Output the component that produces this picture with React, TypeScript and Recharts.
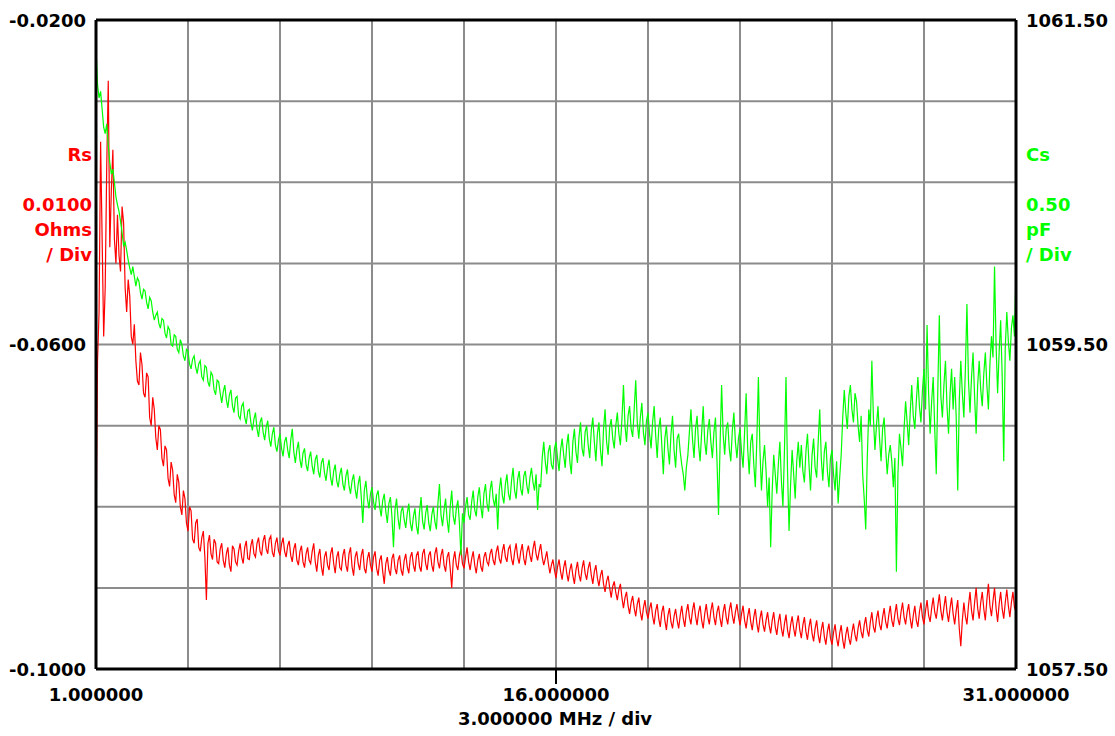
import React from "react";
import { LineChart, Line, XAxis, YAxis, CartesianGrid, ReferenceLine } from "recharts";

const FREQ_START = 1;
const FREQ_STEP = 0.1;

// Cs (pF) at 1.0, 1.1, ... 31.0 MHz
const csValues = [
  1061.33, 1061.02, 1060.95, 1060.80, 1060.73, 1060.55, 1060.50, 1060.36, 1060.26, 1060.11,
  1060.08, 1059.97, 1059.98, 1059.86, 1059.89, 1059.78, 1059.83, 1059.72, 1059.77, 1059.65,
  1059.70, 1059.60, 1059.65, 1059.54, 1059.59, 1059.49, 1059.55, 1059.45, 1059.50, 1059.40,
  1059.46, 1059.35, 1059.43, 1059.32, 1059.40, 1059.28, 1059.36, 1059.24, 1059.31, 1059.19,
  1059.27, 1059.14, 1059.25, 1059.11, 1059.22, 1059.08, 1059.18, 1059.04, 1059.14, 1059.01,
  1059.10, 1058.97, 1059.08, 1058.93, 1059.05, 1058.91, 1059.03, 1058.87, 1058.99, 1058.84,
  1058.95, 1058.81, 1058.93, 1058.80, 1058.98, 1058.77, 1058.90, 1058.74, 1058.86, 1058.72,
  1058.84, 1058.70, 1058.82, 1058.68, 1058.80, 1058.66, 1058.79, 1058.63, 1058.76, 1058.62,
  1058.74, 1058.60, 1058.73, 1058.58, 1058.70, 1058.55, 1058.69, 1058.40, 1058.66, 1058.49,
  1058.62, 1058.48, 1058.60, 1058.44, 1058.58, 1058.40, 1058.56, 1058.25, 1058.55, 1058.36,
  1058.50, 1058.37, 1058.52, 1058.35, 1058.49, 1058.33, 1058.56, 1058.36, 1058.51, 1058.35,
  1058.50, 1058.36, 1058.64, 1058.38, 1058.55, 1058.34, 1058.60, 1058.39, 1058.54, 1058.20,
  1058.40, 1058.56, 1058.42, 1058.60, 1058.44, 1058.62, 1058.43, 1058.64, 1058.47, 1058.66,
  1058.50, 1058.36, 1058.68, 1058.52, 1058.70, 1058.54, 1058.74, 1058.55, 1058.72, 1058.57,
  1058.72, 1058.58, 1058.74, 1058.60, 1058.48, 1058.62, 1058.90, 1058.70, 1058.88, 1058.73,
  1058.90, 1058.72, 1058.92, 1058.74, 1058.95, 1058.70, 1058.98, 1058.77, 1059.02, 1058.81,
  1059.00, 1058.80, 1059.05, 1058.78, 1059.02, 1058.75, 1059.10, 1058.82, 1059.04, 1058.86,
  1059.08, 1058.88, 1059.25, 1058.90, 1059.12, 1058.93, 1059.28, 1058.92, 1059.14, 1058.88,
  1059.08, 1058.86, 1059.12, 1058.80, 1059.05, 1058.70, 1059.00, 1058.76, 1059.06, 1058.74,
  1058.95, 1058.76, 1058.60, 1058.82, 1059.10, 1058.80, 1059.06, 1058.78, 1059.12, 1058.82,
  1059.04, 1058.80, 1059.05, 1058.45, 1059.25, 1058.82, 1059.02, 1058.78, 1059.08, 1058.80,
  1058.98, 1058.74, 1059.20, 1058.70, 1058.95, 1058.62, 1059.30, 1058.60, 1058.88, 1058.50,
  1058.25, 1058.82, 1058.58, 1058.90, 1058.50, 1059.30, 1058.35, 1058.85, 1058.55, 1058.90,
  1058.88, 1058.65, 1058.95, 1058.60, 1058.92, 1058.68, 1059.10, 1058.66, 1058.90, 1058.62,
  1058.85, 1058.60, 1058.52, 1058.82, 1059.22, 1058.98, 1059.25, 1059.02, 1059.15, 1058.90,
  1058.70, 1058.36, 1059.10, 1059.40, 1058.85, 1059.12, 1058.78, 1059.05, 1058.70, 1058.88,
  1058.62, 1058.10, 1058.95, 1058.75, 1059.15, 1058.88, 1059.25, 1058.98, 1059.30, 1059.02,
  1059.35, 1059.62, 1058.95, 1059.30, 1058.70, 1059.68, 1059.05, 1059.40, 1058.95, 1059.35,
  1059.30, 1058.60, 1059.40, 1059.05, 1059.75, 1059.08, 1059.45, 1058.95, 1059.40, 1059.12,
  1059.45, 1059.10, 1059.55, 1059.98, 1059.20, 1059.65, 1058.78, 1059.70, 1059.40, 1059.68, 1059.95,
];

// Cs (pF) read at the half steps 1.05, 1.15, ... 30.95 MHz
const csHalfValues = [
  1061.10, 1061.06, 1060.84, 1060.86, 1060.62, 1060.58, 1060.41, 1060.32, 1060.19, 1060.13,
  1060.02, 1059.93, 1059.92, 1059.91, 1059.82, 1059.84, 1059.76, 1059.79, 1059.70, 1059.68,
  1059.63, 1059.66, 1059.57, 1059.61, 1059.50, 1059.56, 1059.47, 1059.53, 1059.43, 1059.47,
  1059.38, 1059.41, 1059.36, 1059.38, 1059.30, 1059.37, 1059.27, 1059.33, 1059.22, 1059.28,
  1059.20, 1059.21, 1059.16, 1059.19, 1059.12, 1059.17, 1059.06, 1059.12, 1059.05, 1059.09,
  1059.02, 1059.04, 1058.98, 1059.02, 1058.96, 1058.99, 1058.92, 1058.95, 1058.88, 1058.91,
  1058.86, 1058.90, 1058.85, 1058.91, 1058.84, 1058.85, 1058.79, 1058.83, 1058.76, 1058.80,
  1058.75, 1058.79, 1058.72, 1058.77, 1058.71, 1058.74, 1058.68, 1058.72, 1058.66, 1058.70,
  1058.64, 1058.69, 1058.63, 1058.66, 1058.61, 1058.64, 1058.56, 1058.60, 1058.55, 1058.58,
  1058.53, 1058.57, 1058.50, 1058.54, 1058.47, 1058.52, 1058.44, 1058.48, 1058.43, 1058.47,
  1058.42, 1058.46, 1058.40, 1058.44, 1058.38, 1058.47, 1058.41, 1058.46, 1058.40, 1058.45,
  1058.41, 1058.52, 1058.45, 1058.48, 1058.42, 1058.50, 1058.44, 1058.49, 1058.40, 1058.46,
  1058.50, 1058.45, 1058.53, 1058.48, 1058.56, 1058.50, 1058.58, 1058.52, 1058.60, 1058.55,
  1058.58, 1058.60, 1058.57, 1058.64, 1058.58, 1058.66, 1058.60, 1058.67, 1058.61, 1058.69,
  1058.63, 1058.68, 1058.65, 1058.70, 1058.64, 1058.80, 1058.78, 1058.84, 1058.76, 1058.86,
  1058.80, 1058.85, 1058.82, 1058.88, 1058.78, 1058.90, 1058.84, 1058.93, 1058.86, 1058.96,
  1058.88, 1058.97, 1058.90, 1058.95, 1058.85, 1058.98, 1058.90, 1058.99, 1058.92, 1059.00,
  1058.95, 1059.04, 1059.00, 1059.06, 1058.98, 1059.10, 1059.02, 1059.05, 1058.96, 1059.03,
  1058.95, 1059.02, 1058.94, 1058.98, 1058.88, 1058.92, 1058.86, 1058.95, 1058.85, 1058.92,
  1058.84, 1058.70, 1058.74, 1058.96, 1058.92, 1058.98, 1058.88, 1058.96, 1058.90, 1058.97,
  1058.90, 1058.96, 1058.78, 1058.88, 1058.95, 1058.98, 1058.86, 1058.97, 1058.90, 1058.92,
  1058.84, 1058.96, 1058.86, 1058.90, 1058.76, 1058.92, 1058.85, 1058.78, 1058.72, 1058.68,
  1058.60, 1058.70, 1058.76, 1058.66, 1058.85, 1058.72, 1058.64, 1058.70, 1058.78, 1058.74,
  1058.72, 1058.84, 1058.76, 1058.82, 1058.74, 1058.90, 1058.80, 1058.84, 1058.72, 1058.80,
  1058.70, 1058.78, 1058.68, 1059.05, 1059.08, 1059.18, 1059.10, 1059.20, 1059.00, 1059.06,
  1058.55, 1058.80, 1059.00, 1059.05, 1059.00, 1058.92, 1058.98, 1058.86, 1058.82, 1058.78,
  1058.80, 1058.70, 1058.86, 1058.98, 1059.02, 1059.08, 1059.06, 1059.15, 1059.12, 1059.22,
  1059.10, 1059.20, 1059.15, 1058.98, 1059.22, 1059.18, 1059.25, 1059.12, 1059.20, 1059.10,
  1059.05, 1059.15, 1059.20, 1059.35, 1059.28, 1059.30, 1059.18, 1059.25, 1059.22, 1059.32,
  1059.25, 1059.38, 1059.42, 1059.50, 1059.45, 1059.30, 1059.48, 1059.52, 1059.60, 1059.55,
];

// Rs (Ohms) at 1.0, 1.1, ... 31.0 MHz
const rsValues = [
  -0.0841, -0.0560, -0.0470, -0.0530, -0.0275, -0.0410, -0.0470, -0.0440, -0.0510, -0.0450,
  -0.0560, -0.0540, -0.0600, -0.0620, -0.0650, -0.0625, -0.0665, -0.0640, -0.0700, -0.0680,
  -0.0730, -0.0705, -0.0750, -0.0730, -0.0775, -0.0755, -0.0795, -0.0770, -0.0810, -0.0790,
  -0.0830, -0.0805, -0.0845, -0.0815, -0.0855, -0.0830, -0.0915, -0.0835, -0.0865, -0.0845,
  -0.0870, -0.0845, -0.0875, -0.0850, -0.0880, -0.0852, -0.0872, -0.0845, -0.0870, -0.0842,
  -0.0865, -0.0840, -0.0862, -0.0838, -0.0860, -0.0835, -0.0858, -0.0836, -0.0862, -0.0838,
  -0.0860, -0.0838, -0.0862, -0.0842, -0.0868, -0.0845, -0.0872, -0.0848, -0.0875, -0.0850,
  -0.0870, -0.0845, -0.0880, -0.0852, -0.0885, -0.0855, -0.0878, -0.0850, -0.0882, -0.0855,
  -0.0878, -0.0852, -0.0880, -0.0850, -0.0885, -0.0855, -0.0878, -0.0852, -0.0882, -0.0856,
  -0.0880, -0.0855, -0.0885, -0.0860, -0.0895, -0.0862, -0.0885, -0.0858, -0.0883, -0.0860,
  -0.0885, -0.0858, -0.0882, -0.0856, -0.0880, -0.0855, -0.0880, -0.0852, -0.0878, -0.0855,
  -0.0880, -0.0850, -0.0876, -0.0852, -0.0880, -0.0856, -0.0900, -0.0855, -0.0878, -0.0852,
  -0.0876, -0.0850, -0.0878, -0.0855, -0.0882, -0.0858, -0.0880, -0.0856, -0.0872, -0.0852,
  -0.0872, -0.0848, -0.0870, -0.0846, -0.0868, -0.0848, -0.0872, -0.0845, -0.0870, -0.0846,
  -0.0872, -0.0848, -0.0868, -0.0842, -0.0866, -0.0846, -0.0872, -0.0855, -0.0882, -0.0865,
  -0.0888, -0.0865, -0.0890, -0.0866, -0.0892, -0.0870, -0.0895, -0.0868, -0.0892, -0.0866,
  -0.0890, -0.0868, -0.0895, -0.0872, -0.0898, -0.0878, -0.0905, -0.0885, -0.0912, -0.0892,
  -0.0915, -0.0895, -0.0925, -0.0905, -0.0932, -0.0910, -0.0935, -0.0912, -0.0940, -0.0915,
  -0.0938, -0.0918, -0.0945, -0.0920, -0.0948, -0.0922, -0.0952, -0.0925, -0.0950, -0.0926,
  -0.0950, -0.0922, -0.0948, -0.0920, -0.0945, -0.0918, -0.0946, -0.0922, -0.0950, -0.0920,
  -0.0945, -0.0918, -0.0946, -0.0922, -0.0948, -0.0920, -0.0945, -0.0918, -0.0944, -0.0920,
  -0.0946, -0.0922, -0.0950, -0.0925, -0.0952, -0.0926, -0.0955, -0.0928, -0.0954, -0.0930,
  -0.0956, -0.0930, -0.0958, -0.0932, -0.0960, -0.0933, -0.0962, -0.0935, -0.0960, -0.0934,
  -0.0962, -0.0936, -0.0964, -0.0938, -0.0966, -0.0940, -0.0968, -0.0942, -0.0970, -0.0944,
  -0.0970, -0.0945, -0.0972, -0.0946, -0.0975, -0.0948, -0.0970, -0.0944, -0.0966, -0.0940,
  -0.0962, -0.0936, -0.0960, -0.0930, -0.0955, -0.0928, -0.0952, -0.0925, -0.0950, -0.0922,
  -0.0948, -0.0920, -0.0946, -0.0918, -0.0945, -0.0920, -0.0950, -0.0922, -0.0948, -0.0918,
  -0.0945, -0.0915, -0.0942, -0.0912, -0.0938, -0.0908, -0.0940, -0.0910, -0.0942, -0.0912,
  -0.0945, -0.0915, -0.0972, -0.0918, -0.0945, -0.0905, -0.0940, -0.0900, -0.0938, -0.0905,
  -0.0940, -0.0895, -0.0935, -0.0900, -0.0942, -0.0905, -0.0938, -0.0902, -0.0936, -0.0905, -0.0930,
];

// Rs (Ohms) read at the half steps 1.05, 1.15, ... 30.95 MHz
const rsHalfValues = [
  -0.0620, -0.0350, -0.0590, -0.0380, -0.0480, -0.0360, -0.0500, -0.0490, -0.0430, -0.0530,
  -0.0520, -0.0590, -0.0575, -0.0645, -0.0610, -0.0660, -0.0635, -0.0690, -0.0665, -0.0715,
  -0.0700, -0.0740, -0.0725, -0.0765, -0.0745, -0.0785, -0.0760, -0.0800, -0.0780, -0.0820,
  -0.0800, -0.0840, -0.0820, -0.0850, -0.0838, -0.0862, -0.0845, -0.0858, -0.0840, -0.0868,
  -0.0852, -0.0866, -0.0858, -0.0872, -0.0848, -0.0868, -0.0855, -0.0862, -0.0850, -0.0864,
  -0.0848, -0.0858, -0.0845, -0.0855, -0.0842, -0.0852, -0.0840, -0.0856, -0.0845, -0.0854,
  -0.0846, -0.0855, -0.0848, -0.0860, -0.0852, -0.0866, -0.0855, -0.0868, -0.0858, -0.0866,
  -0.0855, -0.0868, -0.0860, -0.0874, -0.0862, -0.0872, -0.0858, -0.0870, -0.0862, -0.0875,
  -0.0860, -0.0872, -0.0858, -0.0874, -0.0862, -0.0870, -0.0860, -0.0876, -0.0864, -0.0872,
  -0.0862, -0.0876, -0.0866, -0.0880, -0.0870, -0.0878, -0.0864, -0.0876, -0.0866, -0.0878,
  -0.0866, -0.0874, -0.0862, -0.0872, -0.0860, -0.0874, -0.0858, -0.0870, -0.0860, -0.0872,
  -0.0858, -0.0868, -0.0860, -0.0872, -0.0862, -0.0876, -0.0866, -0.0872, -0.0860, -0.0870,
  -0.0862, -0.0868, -0.0864, -0.0872, -0.0866, -0.0874, -0.0862, -0.0868, -0.0858, -0.0866,
  -0.0856, -0.0864, -0.0855, -0.0862, -0.0852, -0.0864, -0.0856, -0.0862, -0.0855, -0.0864,
  -0.0856, -0.0860, -0.0852, -0.0858, -0.0855, -0.0862, -0.0864, -0.0870, -0.0872, -0.0878,
  -0.0874, -0.0880, -0.0875, -0.0882, -0.0878, -0.0885, -0.0878, -0.0884, -0.0876, -0.0882,
  -0.0876, -0.0884, -0.0880, -0.0888, -0.0885, -0.0895, -0.0892, -0.0900, -0.0898, -0.0906,
  -0.0902, -0.0912, -0.0912, -0.0922, -0.0918, -0.0925, -0.0920, -0.0930, -0.0925, -0.0930,
  -0.0926, -0.0935, -0.0928, -0.0938, -0.0930, -0.0940, -0.0934, -0.0942, -0.0935, -0.0940,
  -0.0934, -0.0938, -0.0930, -0.0936, -0.0928, -0.0935, -0.0930, -0.0940, -0.0932, -0.0936,
  -0.0928, -0.0936, -0.0930, -0.0938, -0.0930, -0.0936, -0.0928, -0.0934, -0.0930, -0.0935,
  -0.0932, -0.0940, -0.0935, -0.0942, -0.0936, -0.0944, -0.0938, -0.0945, -0.0940, -0.0946,
  -0.0940, -0.0948, -0.0942, -0.0950, -0.0944, -0.0952, -0.0946, -0.0950, -0.0944, -0.0952,
  -0.0946, -0.0954, -0.0948, -0.0956, -0.0950, -0.0958, -0.0952, -0.0960, -0.0954, -0.0962,
  -0.0955, -0.0962, -0.0956, -0.0964, -0.0958, -0.0962, -0.0955, -0.0958, -0.0950, -0.0954,
  -0.0946, -0.0952, -0.0942, -0.0948, -0.0938, -0.0945, -0.0936, -0.0942, -0.0934, -0.0940,
  -0.0932, -0.0938, -0.0930, -0.0936, -0.0930, -0.0938, -0.0934, -0.0940, -0.0930, -0.0936,
  -0.0928, -0.0934, -0.0925, -0.0930, -0.0922, -0.0928, -0.0924, -0.0930, -0.0925, -0.0932,
  -0.0928, -0.0950, -0.0940, -0.0935, -0.0922, -0.0928, -0.0918, -0.0925, -0.0918, -0.0926,
  -0.0915, -0.0922, -0.0916, -0.0925, -0.0920, -0.0926, -0.0918, -0.0922, -0.0918, -0.0924,
];

const xTicks = [1, 4, 7, 10, 13, 16, 19, 22, 25, 28, 31];
const xTickLabels = [1, 16, 31];
const xMarkedTicks = [16];
const rsTicks = [-0.1, -0.09, -0.08, -0.07, -0.06, -0.05, -0.04, -0.03, -0.02];
const rsTickLabels = [-0.1, -0.06, -0.02];
const csTicks = [1057.5, 1059.5, 1061.5];

const rsTitle = ["Rs", "", "0.0100", "Ohms", "/ Div"];
const csTitle = ["Cs", "", "0.50", "pF", "/ Div"];
const xTitle = "3.000000 MHz / div";

const data: { f: number; rs: number; cs: number }[] = [];
rsValues.forEach((rs, i) => {
  data.push({ f: Number((FREQ_START + i * FREQ_STEP).toFixed(2)), rs, cs: csValues[i] });
  if (i < rsHalfValues.length) {
    data.push({
      f: Number((FREQ_START + (i + 0.5) * FREQ_STEP).toFixed(3)),
      rs: rsHalfValues[i],
      cs: csHalfValues[i],
    });
  }
});

const FONT = '"DejaVu Sans", Verdana, sans-serif';
const RED = "#ff0000";
const GREEN = "#00ff00";
const near = (list: number[], v: number) => list.some((l) => Math.abs(l - v) < 1e-6);

const XTick = (p: any) => {
  const v = p.payload.value;
  return (
    <g>
      {near(xMarkedTicks, v) && <line x1={p.x} x2={p.x} y1={669} y2={684} stroke="#000" strokeWidth={2} />}
      {near(xTickLabels, v) && (
        <text x={p.x} y={694} textAnchor="middle" dominantBaseline="central" fontFamily={FONT} fontWeight="bold" fontSize={18} fill="#000">
          {v.toFixed(6)}
        </text>
      )}
    </g>
  );
};

const RsTick = (p: any) => {
  const v = p.payload.value;
  if (!near(rsTickLabels, v)) return <g />;
  return (
    <text x={86} y={p.y} textAnchor="end" dominantBaseline="central" fontFamily={FONT} fontWeight="bold" fontSize={18} fill="#000">
      {v.toFixed(4)}
    </text>
  );
};

const CsTick = (p: any) => {
  const v = p.payload.value;
  return (
    <text x={1026} y={p.y} textAnchor="start" dominantBaseline="central" fontFamily={FONT} fontWeight="bold" fontSize={18} fill="#000">
      {v.toFixed(2)}
    </text>
  );
};

const labelTops = [143, 168, 193, 218, 243];

export default function App() {
  return (
    <div style={{ position: "relative", width: 1115, height: 736, background: "#fff", fontFamily: FONT }}>
      <style>{`body{margin:0;background:#fff}`}</style>
      <LineChart width={1115} height={736} data={data} margin={{ top: 20, right: 0, bottom: 0, left: 0 }}>
        <CartesianGrid yAxisId="rs" stroke="#8c8c8c" strokeWidth={2} />
        <XAxis
          dataKey="f"
          type="number"
          domain={[1, 31]}
          ticks={xTicks}
          interval={0}
          height={67}
          allowDataOverflow
          tickLine={false}
          axisLine={{ stroke: "#000", strokeWidth: 3 }}
          tick={XTick}
        />
        <YAxis
          yAxisId="rs"
          type="number"
          domain={[-0.1, -0.02]}
          ticks={rsTicks}
          interval={0}
          width={96}
          allowDataOverflow
          tickLine={false}
          axisLine={{ stroke: "#000", strokeWidth: 3 }}
          tick={RsTick}
        />
        <YAxis
          yAxisId="cs"
          orientation="right"
          type="number"
          domain={[1057.5, 1061.5]}
          ticks={csTicks}
          interval={0}
          width={99}
          allowDataOverflow
          tickLine={false}
          axisLine={{ stroke: "#000", strokeWidth: 3 }}
          tick={CsTick}
        />
        <ReferenceLine yAxisId="rs" y={-0.02} stroke="#000" strokeWidth={3} />
        <Line yAxisId="rs" dataKey="rs" stroke={RED} strokeWidth={1.2} dot={false} isAnimationActive={false} />
        <Line yAxisId="cs" dataKey="cs" stroke={GREEN} strokeWidth={1.2} dot={false} isAnimationActive={false} />
      </LineChart>
      {rsTitle.map((t, i) =>
        t ? (
          <div key={"r" + i} style={{ position: "absolute", right: 1115 - 92, top: labelTops[i], lineHeight: "24px", fontSize: 18, fontWeight: "bold", color: RED, whiteSpace: "nowrap" }}>
            {t}
          </div>
        ) : null
      )}
      {csTitle.map((t, i) =>
        t ? (
          <div key={"c" + i} style={{ position: "absolute", left: 1026, top: labelTops[i], lineHeight: "24px", fontSize: 18, fontWeight: "bold", color: GREEN, whiteSpace: "nowrap" }}>
            {t}
          </div>
        ) : null
      )}
      <div style={{ position: "absolute", left: 0, width: 1115 - 3, textAlign: "center", top: 707, lineHeight: "24px", fontSize: 18, fontWeight: "bold", color: "#000" }}>
        <span style={{ position: "relative", left: -1 }}>{xTitle}</span>
      </div>
    </div>
  );
}
